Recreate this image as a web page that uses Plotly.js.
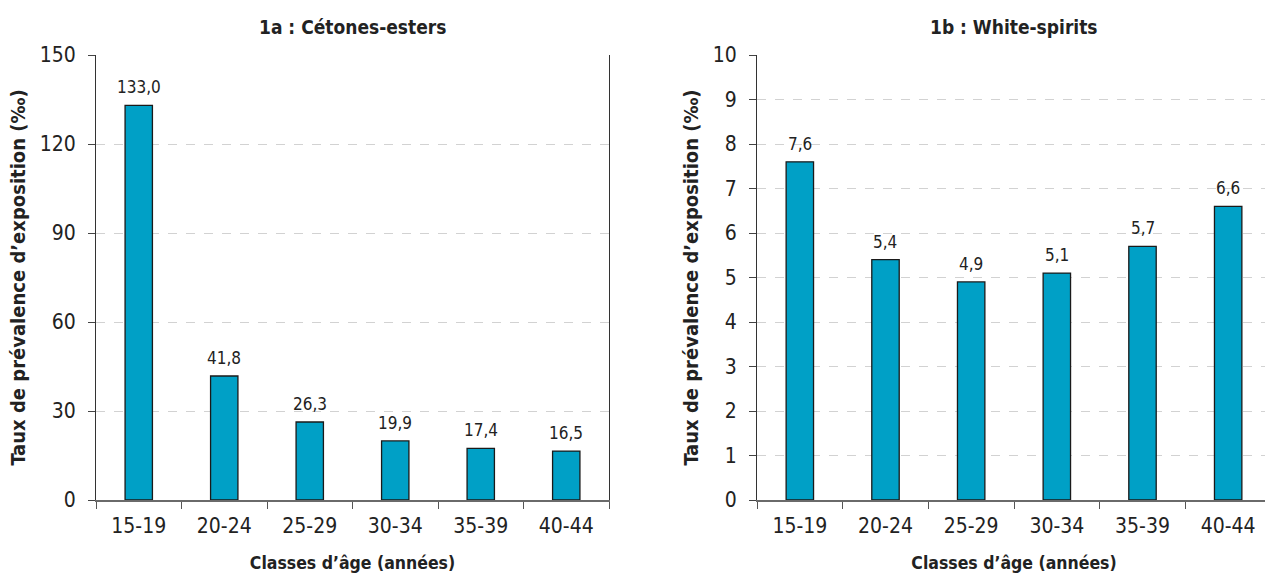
<!DOCTYPE html>
<html>
<head>
<meta charset="utf-8">
<script src="https://cdn.plot.ly/plotly-3.0.1.min.js"></script>
<style>
html, body { margin: 0; padding: 0; overflow: hidden; background: #fff; }
#chart { width: 1272px; height: 575px; }
</style>
</head>
<body>
<div id="chart"></div>
<script>
const categories = ['15-19', '20-24', '25-29', '30-34', '35-39', '40-44'];
const cetonesEsters = [133.0, 41.8, 26.3, 19.9, 17.4, 16.5];
const whiteSpirits = [7.6, 5.4, 4.9, 5.1, 5.7, 6.6];
const titleA = '1a : Cétones-esters';
const titleB = '1b : White-spirits';
const xTitle = 'Classes d’âge (années)';
const yTitle = 'Taux de prévalence d’exposition (‰)';

const W = 1272, H = 575;
const FONT = '"DejaVu Sans Condensed", "Liberation Sans Narrow", sans-serif';
const barColor = '#00A0C6';

function fmt(v) { return v.toFixed(1).replace('.', ','); }

const traces = [
  { type: 'bar', x: categories, y: cetonesEsters, xaxis: 'x', yaxis: 'y', width: 0.32,
    marker: { color: barColor, line: { color: '#1a1a1a', width: 1.3 } }, hoverinfo: 'x+y' },
  { type: 'bar', x: categories, y: whiteSpirits, xaxis: 'x2', yaxis: 'y2', width: 0.32,
    marker: { color: barColor, line: { color: '#1a1a1a', width: 1.3 } }, hoverinfo: 'x+y' }
];

const annotations = [];
categories.forEach((c, i) => {
  annotations.push({ x: c, y: cetonesEsters[i], xref: 'x', yref: 'y', text: fmt(cetonesEsters[i]),
    showarrow: false, yanchor: 'bottom', yshift: 6, font: { family: FONT, size: 17, color: '#222' } });
  annotations.push({ x: c, y: whiteSpirits[i], xref: 'x2', yref: 'y2', text: fmt(whiteSpirits[i]),
    showarrow: false, yanchor: 'bottom', yshift: 6, font: { family: FONT, size: 17, color: '#222' } });
});
annotations.push({ x: 0.5, y: 1, xref: 'x domain', yref: 'paper', yshift: 28, yanchor: 'middle',
  text: '<b>' + titleA + '</b>', showarrow: false, font: { family: FONT, size: 19, color: '#222' } });
annotations.push({ x: 0.5, y: 1, xref: 'x2 domain', yref: 'paper', yshift: 28, yanchor: 'middle',
  text: '<b>' + titleB + '</b>', showarrow: false, font: { family: FONT, size: 19, color: '#222' } });

const xCommon = {
  type: 'category', tickson: 'boundaries', ticks: 'outside', ticklen: 7, tickcolor: '#555', tickwidth: 1.2,
  showline: true, linecolor: '#6a6a6a', linewidth: 2.2, showgrid: false, zeroline: false,
  tickfont: { family: FONT, size: 21, color: '#222' }, ticklabelstandoff: 6,
  title: { text: '<b>' + xTitle + '</b>', font: { family: FONT, size: 17.5, color: '#222' }, standoff: 19 },
  fixedrange: true
};
const yCommon = {
  ticks: 'outside', ticklen: 7, tickcolor: '#444', showline: true, linecolor: '#333', linewidth: 1.2,
  mirror: true, showgrid: true, gridcolor: '#d2d2d2', griddash: 'dash', gridwidth: 1, zeroline: false,
  tickfont: { family: FONT, size: 21, color: '#222' }, ticklabelstandoff: 8,
  title: { text: '<b>' + yTitle + '</b>', font: { family: FONT, size: 20, color: '#222' }, standoff: 8 },
  fixedrange: true
};

const layout = {
  width: W, height: H,
  margin: { l: 0, r: 0, t: 55, b: 75, pad: 0 },
  paper_bgcolor: '#fff', plot_bgcolor: '#fff',
  showlegend: false,
  xaxis: Object.assign({}, xCommon, { domain: [96 / W, 609 / W], anchor: 'y' }),
  xaxis2: Object.assign({}, xCommon, { domain: [757 / W, 1271 / W], anchor: 'y2' }),
  yaxis: Object.assign({}, yCommon, { range: [0, 150], dtick: 30, anchor: 'x' }),
  yaxis2: Object.assign({}, yCommon, { range: [0, 10], dtick: 1, anchor: 'x2' }),
  annotations: annotations
};

Plotly.newPlot('chart', traces, layout, { displayModeBar: false, responsive: false });
</script>
</body>
</html>
